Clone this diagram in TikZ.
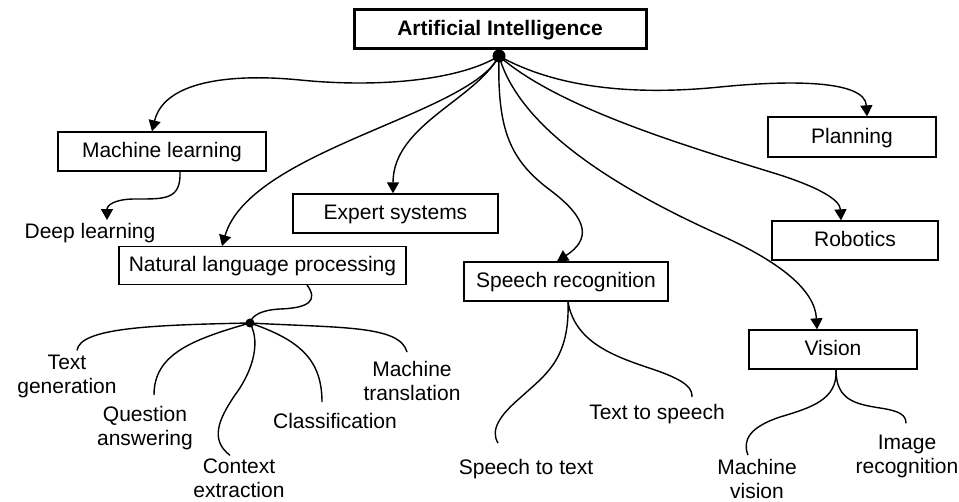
\documentclass[tikz,border=0pt]{standalone}
\usepackage{fontspec}
\setmainfont{Liberation Sans}
\usetikzlibrary{arrows.meta}
\tikzset{
  base/.style={font=\fontsize{21}{24}\selectfont, inner sep=2pt},
  box/.style={base, draw, line width=1.3pt, text height=16pt, text depth=3pt, minimum height=39pt},
  rootbox/.style={box, line width=3pt, font=\fontsize{21}{24}\selectfont\bfseries},
  leaf/.style={base, align=center},
  leafone/.style={base, text height=15pt, text depth=4.5pt},
  link/.style={line width=1.4pt},
  arrowlink/.style={link, -{Triangle[length=11pt,width=12pt]}},
  hub/.style={circle, fill=black, inner sep=0pt},
}
\begin{document}
\begin{tikzpicture}[x=1pt,y=-1pt]
\fill[white] (0,0) rectangle (959,502);
\useasboundingbox (0,0) rectangle (959,502);

% boxes
\node[rootbox, minimum width=292pt] (ai) at (500,29.5) {Artificial Intelligence};
\node[box, minimum width=208pt] (ml) at (162,151.5) {Machine learning};
\node[box, minimum width=205pt] (es) at (395.5,213.5) {Expert systems};
\node[box, minimum width=287pt, minimum height=37.5pt] (nlp) at (262.5,265.5) {Natural language processing};
\node[box, minimum width=204pt] (sr) at (566,281.5) {Speech recognition};
\node[box, minimum width=168pt, minimum height=40pt] (plan) at (852,137) {Planning};
\node[box, minimum width=166pt] (rob) at (855,240.5) {Robotics};
\node[box, minimum width=168pt] (vis) at (833,349.5) {Vision};

% plain labels
\node[leafone] (dl) at (90,233) {Deep learning};
\node[leaf] (tg) at (67,376) {Text\\generation};
\node[leaf] (qa) at (145,428) {Question\\answering};
\node[leaf] (ce) at (239,478.5) {Context\\extraction};
\node[leafone] (cl) at (335,423) {Classification};
\node[leaf] (mt) at (412,381) {Machine\\translation};
\node[leafone] (stt) at (526,469) {Speech to text};
\node[leafone] (tts) at (657,414) {Text to speech};
\node[leaf] (mv) at (757,478.5) {Machine\\vision};
\node[leaf] (ir) at (907,456) {Image\\recognition};

% branching points
\node[hub, minimum size=13pt] (aidot) at (499,56) {};
\node[hub, minimum size=9pt] (nlpdot) at (250,323) {};

% main branches
\draw[arrowlink] (aidot.center) .. controls (460,80) and (380,88) .. (300,80)
  .. controls (240,74) and (165,78) .. ([xshift=-10pt]ml.north);
\draw[arrowlink] (aidot.center) .. controls (475,100) and (393,125) .. ([xshift=-2.5pt]es.north);
\draw[arrowlink] (aidot.center) .. controls (470,115) and (250,150) .. ([xshift=-40.5pt]nlp.north);
\draw[arrowlink] (aidot.center) .. controls (497,130) and (510,160) .. (550,190)
  .. controls (590,220) and (590,240) .. ([xshift=-9pt]sr.north);
\draw[arrowlink] (aidot.center) .. controls (560,90) and (640,95) .. (720,87)
  .. controls (790,80) and (865,80) .. ([xshift=15pt]plan.north);
\draw[arrowlink] (aidot.center) .. controls (560,110) and (700,150) .. (780,175)
  .. controls (820,188) and (840,200) .. ([xshift=-14pt]rob.north);
\draw[arrowlink] (aidot.center) .. controls (520,130) and (620,190) .. (720,235)
  .. controls (780,262) and (815,290) .. ([xshift=-16pt]vis.north);

% machine learning
\draw[arrowlink] ([xshift=18pt]ml.south) .. controls (181,200) and (165,199) .. (135,199)
  .. controls (115,199) and (107,205) .. ([xshift=17pt,yshift=1pt]dl.north);

% natural language processing
\draw[link] ([xshift=44.5pt]nlp.south) .. controls (318,300) and (310,308) .. (280,309)
  .. controls (262,310) and (252,315) .. (nlpdot.center);
\draw[link] (nlpdot.center) .. controls (150,325) and (80,328) .. ([xshift=10pt,yshift=2pt]tg.north);
\draw[link] (nlpdot.center) .. controls (190,340) and (154,355) .. ([xshift=9pt,yshift=9pt]qa.north);
\draw[link] (nlpdot.center) .. controls (262,345) and (250,375) .. (235,395)
  .. controls (218,420) and (210,440) .. ([xshift=-9pt,yshift=1.5pt]ce.north);
\draw[link] (nlpdot.center) .. controls (300,340) and (322,360) .. ([xshift=-13pt,yshift=9pt]cl.north);
\draw[link] (nlpdot.center) .. controls (340,328) and (400,325) .. ([xshift=-5pt,yshift=7pt]mt.north);

% speech recognition
\draw[link] ([xshift=2pt]sr.south) .. controls (570,360) and (545,375) .. (520,398)
  .. controls (500,415) and (490,430) .. ([xshift=-28pt,yshift=14pt]stt.north);
\draw[link] ([xshift=2pt]sr.south) .. controls (575,345) and (620,358) .. (655,370)
  .. controls (690,382) and (692,390) .. ([xshift=35pt,yshift=5pt]tts.north);

% vision
\draw[link] ([xshift=3pt]vis.south) .. controls (838,400) and (810,408) .. (780,417)
  .. controls (750,427) and (742,440) .. ([xshift=-9pt,yshift=1.5pt]mv.north);
\draw[link] ([xshift=3pt]vis.south) .. controls (836,400) and (855,404) .. (880,408)
  .. controls (900,411) and (906,415) .. ([xshift=-1pt,yshift=9pt]ir.north);
\end{tikzpicture}
\end{document}
